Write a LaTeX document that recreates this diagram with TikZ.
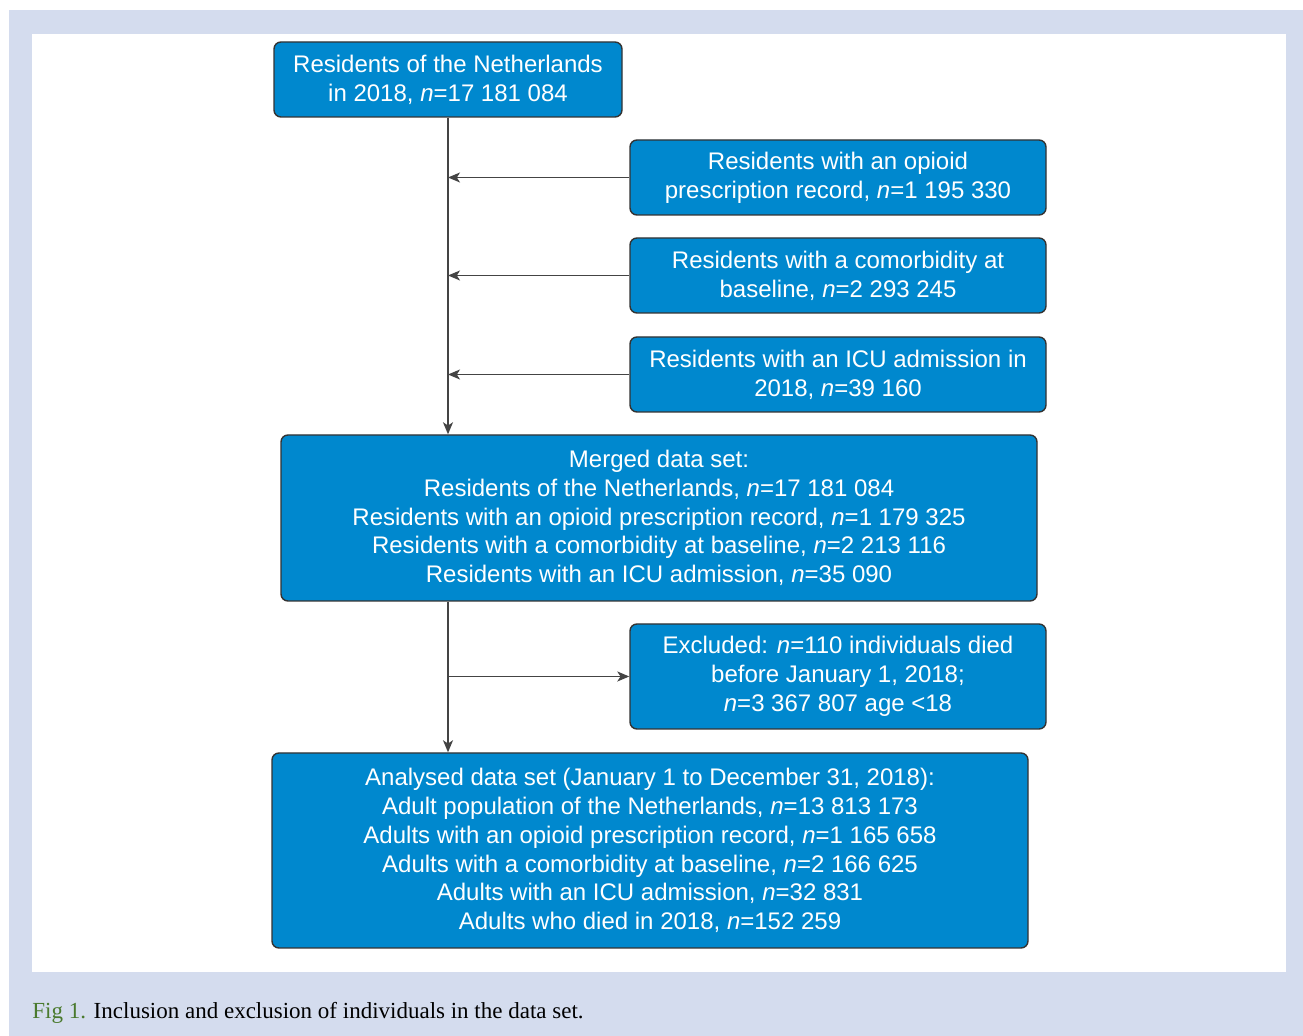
\documentclass[tikz,border=0pt]{standalone}
\usepackage{fontspec}
\setmainfont{Liberation Sans}
\newfontfamily\capfont{Liberation Serif}
\usetikzlibrary{arrows.meta}
\definecolor{boxblue}{RGB}{0,136,206}
\definecolor{panelblue}{RGB}{212,220,238}
\definecolor{figgreen}{RGB}{74,122,46}
\definecolor{linegray}{RGB}{68,68,68}

\begin{document}
\begin{tikzpicture}
[
	              x = 0.5pt,
	              y = -0.5pt,
	           >= {Stealth[length=6pt, width=5pt, inset=1.6pt]},
	    line/.style = { draw=linegray, line width=0.7pt },
	     box/.style = { draw=black!80, fill=boxblue, text=white, rounded corners=3.5pt,
	                    align=center, inner sep=0pt, line width=0.7pt,
	                    font=\fontsize{12}{14.4}\selectfont },
	 sidebox/.style = { box, minimum width=208pt, minimum height=37.5pt },
	 bigbox/.style  = { box, minimum width=378pt }
]
	\useasboundingbox (0,0) rectangle (1303,1036);
	\fill [panelblue] (9,10) rectangle (1303,1036);
	\fill [white] (32,34) rectangle (1286,972);

	\node (10) at (448,79.5)  [box, minimum width=174pt, minimum height=37.5pt]
		{Residents of the Netherlands\\in 2018, \textit{n}=17 181 084};

	\node (20) at (838,177.5) [sidebox]
		{Residents with an opioid\\prescription record, \textit{n}=1 195 330};
	\node (30) at (838,275.5) [sidebox]
		{Residents with a comorbidity at\\baseline, \textit{n}=2 293 245};
	\node (40) at (838,374.5) [sidebox]
		{Residents with an ICU admission in\\2018, \textit{n}=39 160};

	\node (50) at (659,518)   [bigbox, minimum height=83pt]
		{Merged data set:\\
		 Residents of the Netherlands, \textit{n}=17 181 084\\
		 Residents with an opioid prescription record, \textit{n}=1 179 325\\
		 Residents with a comorbidity at baseline, \textit{n}=2 213 116\\
		 Residents with an ICU admission, \textit{n}=35 090};

	\node (60) at (838,676.5) [sidebox, minimum height=52.5pt]
		{Excluded: \textit{n}=110 individuals died\\
		 before January 1, 2018;\\
		 \textit{n}=3 367 807 age <18};

	\node (70) at (650,850.5) [bigbox, minimum height=97.5pt]
		{Analysed data set (January 1 to December 31, 2018):\\
		 Adult population of the Netherlands, \textit{n}=13 813 173\\
		 Adults with an opioid prescription record, \textit{n}=1 165 658\\
		 Adults with a comorbidity at baseline, \textit{n}=2 166 625\\
		 Adults with an ICU admission, \textit{n}=32 831\\
		 Adults who died in 2018, \textit{n}=152 259};

	\draw [line, ->] (10.south) -- (10.south |- 50.north);
	\draw [line, ->] (20) -- (20 -| 10);
	\draw [line, ->] (30) -- (30 -| 10);
	\draw [line, ->] (40) -- (40 -| 10);

	\draw [line, ->] (50.south -| 10) -- (70.north -| 10);
	\draw [line, ->] (60 -| 10) -- (60);

	\node (80) at (32,1013) [anchor=west, inner sep=0pt, font=\capfont\fontsize{11.5}{13.8}\selectfont]
		{\textcolor{figgreen}{Fig 1.} Inclusion and exclusion of individuals in the data set.};

\end{tikzpicture}
\end{document}
